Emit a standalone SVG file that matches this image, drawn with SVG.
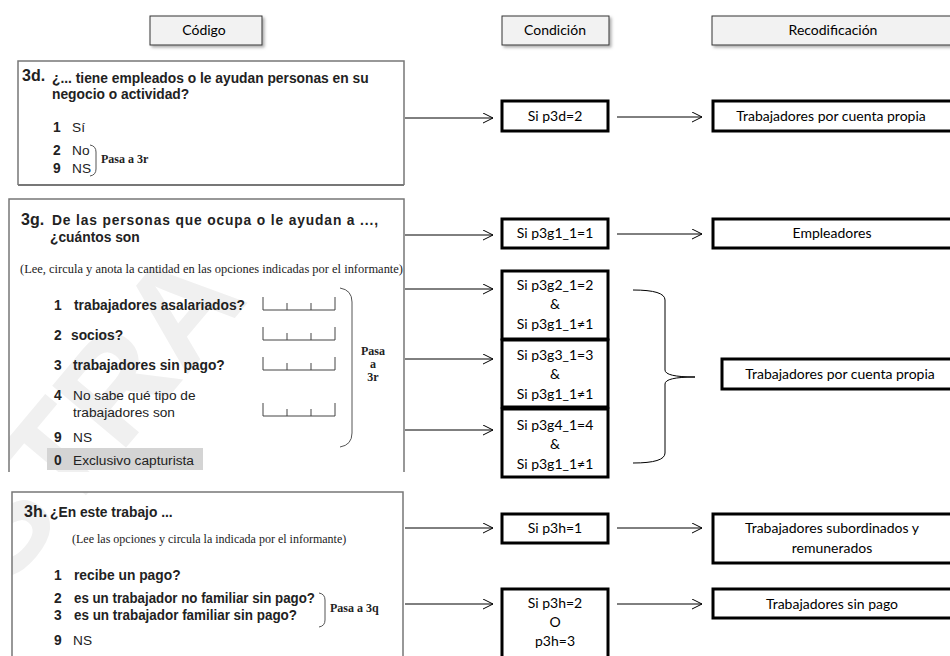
<svg xmlns="http://www.w3.org/2000/svg" width="950" height="656" viewBox="0 0 950 656">
<defs>
  <marker id="arr" markerWidth="12" markerHeight="12" refX="10" refY="5" orient="auto" markerUnits="userSpaceOnUse">
    <path d="M0,0 L10,5 L0,10" fill="none" stroke="#000" stroke-width="1"/>
  </marker>
  <filter id="shadow" x="-10%" y="-20%" width="130%" height="160%">
    <feDropShadow dx="2" dy="2" stdDeviation="1.5" flood-color="#888" flood-opacity="0.7"/>
  </filter>
  <clipPath id="panels">
    <rect x="18" y="61" width="386" height="124"/>
    <rect x="9" y="200" width="395" height="272"/>
    <rect x="12" y="492" width="391" height="164"/>
  </clipPath>
</defs>
<style>
  .hdr { fill:#f2f2f2; stroke:#333; stroke-width:1; }
  .cal { font-family:Lato,"Open Sans","Liberation Sans",sans-serif; font-size:14px; fill:#000; }
  .box { fill:#fff; stroke:#000; stroke-width:3; }
  .panel { fill:none; stroke:#777; stroke-width:1.5; }
  .q { font-family:"Liberation Sans",Arial,sans-serif; font-weight:bold; font-size:13.8px; fill:#222; }
  .qn { font-family:"Liberation Sans",Arial,sans-serif; font-weight:bold; font-size:16px; fill:#222; }
  .opt { font-family:"Liberation Sans",Arial,sans-serif; font-size:13.7px; fill:#222; }
  .optb { font-family:"Liberation Sans",Arial,sans-serif; font-weight:bold; font-size:13.8px; fill:#222; }
  .ser { font-family:"Liberation Serif","Times New Roman",serif; font-size:12px; fill:#222; }
  .serb { font-family:"Liberation Serif","Times New Roman",serif; font-weight:bold; font-size:12px; fill:#222; }
  .conn { fill:none; stroke:#000; stroke-width:1; }
  .tick { fill:none; stroke:#444; stroke-width:1; }
  .brk { fill:none; stroke:#555; stroke-width:1; }
</style>
<rect width="950" height="656" fill="#fff"/>

<!-- watermark -->
<g clip-path="url(#panels)">
  <text x="0" y="0" transform="translate(-195,830) rotate(-50)" font-family="Liberation Sans,Arial,sans-serif" font-weight="bold" font-size="140" fill="#f0f0f0">MUESTRA</text>
</g>

<!-- headers -->
<g id="h-codigo">
  <rect class="hdr" x="150" y="16" width="112" height="29" filter="url(#shadow)"/>
  <text class="cal" x="204" y="35" text-anchor="middle">Código</text>
</g>
<g id="h-condicion">
  <rect class="hdr" x="502" y="16" width="107" height="29" filter="url(#shadow)"/>
  <text class="cal" x="555" y="35" text-anchor="middle">Condición</text>
</g>
<g id="h-recod">
  <rect class="hdr" x="712" y="16" width="245" height="29" filter="url(#shadow)"/>
  <text class="cal" x="833" y="35" text-anchor="middle">Recodificación</text>
</g>

<!-- 3d panel -->
<g id="q3d">
  <path class="panel" d="M18,185 V61 H404 V185"/>
  <line x1="18" y1="185" x2="404" y2="185" stroke="#777" stroke-width="2"/>
  <text class="qn" x="22" y="81">3d.</text>
  <text class="q" x="52" y="83">¿... tiene empleados o le ayudan personas en su</text>
  <text class="q" x="52" y="99">negocio o actividad?</text>
  <text class="optb" x="53" y="132">1</text><text class="opt" x="72" y="132">Sí</text>
  <text class="optb" x="53" y="155">2</text><text class="opt" x="72" y="155">No</text>
  <text class="optb" x="53" y="173">9</text><text class="opt" x="72" y="173">NS</text>
  <path class="brk" d="M90,145 Q96,146 96,152 V169 Q96,175 90,176"/>
  <text class="serb" x="101" y="163">Pasa a  3r</text>
</g>

<!-- 3g panel -->
<g id="q3g">
  <path class="panel" d="M9,472 V199 H404 V472"/>
  <text class="qn" x="21" y="225">3g.</text>
  <text class="q" x="52" y="225" textLength="326" lengthAdjust="spacing">De las personas que ocupa o le ayudan a ...,</text>
  <text class="q" x="50" y="242">¿cuántos son</text>
  <text class="ser" x="20" y="273" textLength="383" lengthAdjust="spacingAndGlyphs">(Lee, circula y anota la cantidad en las opciones indicadas por el informante)</text>
  <text class="optb" x="54" y="310">1</text><text class="optb" x="74" y="310">trabajadores asalariados?</text>
  <text class="optb" x="54" y="340">2</text><text class="optb" x="71" y="340">socios?</text>
  <text class="optb" x="54" y="370">3</text><text class="optb" x="73" y="370">trabajadores sin pago?</text>
  <text class="optb" x="54" y="400">4</text><text class="opt" x="73" y="400">No sabe qué tipo de</text>
  <text class="opt" x="73" y="417">trabajadores son</text>
  <text class="optb" x="54" y="442">9</text><text class="opt" x="73" y="442">NS</text>
  <rect x="47" y="448" width="156" height="22" fill="#d4d4d4"/>
  <text class="optb" x="54" y="465">0</text><text class="opt" x="73" y="465">Exclusivo capturista</text>
  <path class="tick" d="M263,297 V310 H335 V297 M287,303 V310 M311,303 V310"/>
  <path class="tick" d="M263,327 V340 H335 V327 M287,333 V340 M311,333 V340"/>
  <path class="tick" d="M263,357 V370 H335 V357 M287,363 V370 M311,363 V370"/>
  <path class="tick" d="M263,403 V416 H335 V403 M287,409 V416 M311,409 V416"/>
  <path class="brk" d="M340,288 Q352,290 352,302 V433 Q352,445 340,447"/>
  <text class="serb" x="373" y="355" text-anchor="middle">Pasa</text>
  <text class="serb" x="373" y="368" text-anchor="middle">a</text>
  <text class="serb" x="373" y="381" text-anchor="middle">3r</text>
</g>

<!-- 3h panel -->
<g id="q3h">
  <path class="panel" d="M12,656 V492 H403 V656"/>
  <text class="qn" x="24" y="517">3h.</text>
  <text class="q" x="50" y="517">¿En este trabajo ...</text>
  <text class="ser" x="72" y="543">(Lee las opciones y circula la indicada por el informante)</text>
  <text class="optb" x="54" y="580">1</text><text class="optb" x="74" y="580">recibe un pago?</text>
  <text class="optb" x="54" y="603">2</text><text class="optb" x="74" y="603" textLength="241" lengthAdjust="spacingAndGlyphs">es un trabajador no familiar sin pago?</text>
  <text class="optb" x="54" y="620">3</text><text class="optb" x="74" y="620" textLength="223" lengthAdjust="spacingAndGlyphs">es un trabajador familiar sin pago?</text>
  <text class="optb" x="54" y="645">9</text><text class="opt" x="73" y="645">NS</text>
  <path class="brk" d="M319,593 Q325,594 325,600 V620 Q325,626 319,627"/>
  <text class="serb" x="330" y="612">Pasa a 3q</text>
</g>

<!-- condition boxes -->
<g id="c-3d">
  <rect class="box" x="502" y="101" width="106" height="30"/>
  <text class="cal" x="555" y="121" text-anchor="middle">Si p3d=2</text>
</g>
<g id="c-3g1">
  <rect class="box" x="502" y="219" width="106" height="29"/>
  <text class="cal" x="555" y="238" text-anchor="middle">Si p3g1_1=1</text>
</g>
<g id="c-3g2">
  <rect class="box" x="502" y="271" width="106" height="68"/>
  <text class="cal" x="555" y="290" text-anchor="middle">Si p3g2_1=2</text>
  <text class="cal" x="555" y="309" text-anchor="middle">&amp;</text>
  <text class="cal" x="555" y="329" text-anchor="middle">Si p3g1_1≠1</text>
</g>
<g id="c-3g3">
  <rect class="box" x="502" y="340" width="106" height="67"/>
  <text class="cal" x="555" y="360" text-anchor="middle">Si p3g3_1=3</text>
  <text class="cal" x="555" y="379" text-anchor="middle">&amp;</text>
  <text class="cal" x="555" y="399" text-anchor="middle">Si p3g1_1≠1</text>
</g>
<g id="c-3g4">
  <rect class="box" x="502" y="409" width="106" height="68"/>
  <text class="cal" x="555" y="430" text-anchor="middle">Si p3g4_1=4</text>
  <text class="cal" x="555" y="449" text-anchor="middle">&amp;</text>
  <text class="cal" x="555" y="469" text-anchor="middle">Si p3g1_1≠1</text>
</g>
<g id="c-3h1">
  <rect class="box" x="502" y="514" width="106" height="29"/>
  <text class="cal" x="555" y="533" text-anchor="middle">Si p3h=1</text>
</g>
<g id="c-3h2">
  <rect class="box" x="502" y="589" width="106" height="69"/>
  <text class="cal" x="555" y="608" text-anchor="middle">Si p3h=2</text>
  <text class="cal" x="555" y="627" text-anchor="middle">O</text>
  <text class="cal" x="555" y="646" text-anchor="middle">p3h=3</text>
</g>

<!-- recodification boxes -->
<g id="r-cuenta1">
  <rect class="box" x="713" y="101" width="245" height="30"/>
  <text class="cal" x="831" y="121" text-anchor="middle">Trabajadores por cuenta propia</text>
</g>
<g id="r-empleadores">
  <rect class="box" x="713" y="219" width="245" height="29"/>
  <text class="cal" x="832" y="238" text-anchor="middle">Empleadores</text>
</g>
<g id="r-cuenta2">
  <rect class="box" x="722" y="359" width="236" height="30"/>
  <text class="cal" x="840" y="379" text-anchor="middle">Trabajadores por cuenta propia</text>
</g>
<g id="r-subord">
  <rect class="box" x="713" y="514" width="245" height="49"/>
  <text class="cal" x="832" y="533" text-anchor="middle">Trabajadores subordinados y</text>
  <text class="cal" x="832" y="553" text-anchor="middle">remunerados</text>
</g>
<g id="r-sinpago">
  <rect class="box" x="713" y="589" width="245" height="29"/>
  <text class="cal" x="832" y="609" text-anchor="middle">Trabajadores sin pago</text>
</g>

<!-- connectors -->
<g id="connectors">
  <line class="conn" x1="405" y1="118" x2="493" y2="118" marker-end="url(#arr)"/>
  <line class="conn" x1="617" y1="117" x2="702" y2="117" marker-end="url(#arr)"/>
  <line class="conn" x1="405" y1="235" x2="493" y2="235" marker-end="url(#arr)"/>
  <line class="conn" x1="617" y1="234" x2="702" y2="234" marker-end="url(#arr)"/>
  <line class="conn" x1="405" y1="289" x2="493" y2="289" marker-end="url(#arr)"/>
  <line class="conn" x1="405" y1="359" x2="493" y2="359" marker-end="url(#arr)"/>
  <line class="conn" x1="405" y1="430" x2="493" y2="430" marker-end="url(#arr)"/>
  <line class="conn" x1="405" y1="528" x2="493" y2="528" marker-end="url(#arr)"/>
  <line class="conn" x1="617" y1="528" x2="702" y2="528" marker-end="url(#arr)"/>
  <line class="conn" x1="405" y1="604" x2="493" y2="604" marker-end="url(#arr)"/>
  <line class="conn" x1="617" y1="604" x2="702" y2="604" marker-end="url(#arr)"/>
  <path class="conn" d="M633,290 Q665,290 665,300 V370 Q665,377 695,377 Q665,377 665,384 V453 Q665,463 633,463"/>
</g>
</svg>
